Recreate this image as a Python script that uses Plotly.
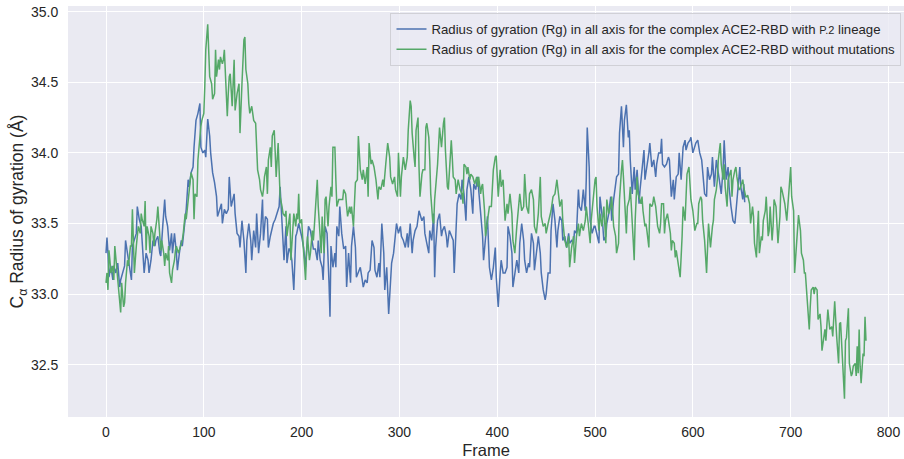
import plotly.graph_objects as go

# ---- data (frame, Rg in Å) ----
p2_frames = [0,1,2,3,5,7,8,10,12,14,15,17,19,20,22,24,26,27,29,31,32,34,36,38,39,41,43,44,46,48,50,51,53,55,56,58,60,61,63,65,67,68,70,72,73,75,77,78,80,82,84,85,87,89,90,92,94,96,97,99,101,102,104,106,107,109,111,113,114,116,118,119,121,123,125,
 126,128,131,132,134,136,137,139,141,143,144,146,148,149,151,153,154,156,158,160,161,163,165,166,168,170,171,173,175,177,178,179,181,182,184,185,187,188,190,192,194,195,197,199,200,202,204,205,207,209,211,212,214,216,217,219,221,222,224,226,228,229,230,232,234,235,236,238,239,241,243,245,246,248,250,251,253,255,256,258,
 260,262,263,265,267,268,270,272,274,275,277,279,280,282,284,285,287,289,291,292,294,296,297,299,301,302,304,306,308,309,311,313,314,316,318,320,321,323,325,326,328,330,331,333,335,336,337,339,341,343,344,346,348,349,351,353,355,356,358,359,361,363,364,366,368,369,371,373,375,376,378,380,381,383,385,386,388,390,
 392,394,396,398,399,401,403,404,406,408,410,411,413,415,416,418,420,422,423,425,427,428,430,432,433,435,437,438,440,442,444,445,447,449,450,452,454,455,457,459,461,462,464,466,467,469,471,473,474,476,478,479,481,483,484,486,488,490,491,492,494,495,497,499,500,502,504,505,507,509,511,512,514,516,517,519,521,522,
 524,525,527,529,530,532,534,535,536,538,540,541,543,545,546,548,550,551,553,555,556,558,560,562,563,565,567,568,569,571,573,575,576,578,580,581,583,585,586,588,590,592,593,595,597,598,600,602,603,605,607,609,610,612,614,615,617,619,620,622,624,626,627,629,631,632,634,636,637,639,641,643,644,646,648,649,651,652,653]
p2_rg = [33.29,33.40,33.29,33.12,33.20,33.10,33.20,33.15,33.22,33.05,33.10,33.15,33.20,33.38,33.29,33.17,33.10,33.34,33.38,33.43,33.62,33.53,33.48,33.29,33.15,33.29,33.24,33.15,33.24,33.38,33.34,33.38,33.41,33.29,33.27,33.48,33.67,33.55,33.48,33.31,33.43,33.29,33.43,33.29,33.17,33.29,33.38,33.34,33.48,33.60,33.81,33.76,33.86,33.90,34.04,34.23,34.28,34.35,34.04,34.00,34.02,33.97,34.24,34.12,34.00,33.86,33.79,33.69,33.55,33.60,33.64,33.50,33.60,33.57,33.60,
 33.83,33.62,33.71,33.57,33.43,33.41,33.33,33.52,33.38,33.15,33.38,33.50,33.38,33.24,33.45,33.33,33.57,33.29,33.43,33.67,33.38,33.55,33.53,33.33,33.41,33.48,33.50,33.53,33.57,33.62,33.76,33.62,33.41,33.24,33.48,33.22,33.32,33.32,33.24,33.03,33.41,33.43,33.50,33.45,33.41,33.33,33.19,33.29,33.48,33.45,33.38,33.32,33.32,33.24,33.38,33.24,33.19,33.10,33.48,33.43,33.08,32.84,33.34,33.19,33.29,33.19,33.48,33.41,33.62,33.43,33.32,33.34,33.05,33.29,33.08,33.34,33.48,33.33,33.12,33.15,
 33.19,33.10,33.05,33.10,33.08,33.15,33.17,33.38,33.33,33.17,33.12,33.22,33.12,33.50,33.29,33.03,33.19,32.86,33.10,33.22,33.29,33.41,33.50,33.43,33.48,33.41,33.38,33.33,33.43,33.33,33.50,33.29,33.38,33.45,33.48,33.59,33.57,33.52,33.55,33.43,33.36,33.29,33.45,33.38,33.57,33.12,33.33,33.52,33.57,33.41,33.45,33.48,33.41,33.33,33.45,33.41,33.38,33.15,33.45,33.64,33.71,33.67,33.81,33.71,33.52,33.74,33.83,33.74,33.57,33.78,33.74,33.83,33.74,33.59,33.41,33.24,33.38,33.55,
 33.19,33.10,33.19,33.33,33.12,32.91,33.15,33.24,33.15,33.15,33.19,33.48,33.41,33.29,33.05,33.15,33.24,33.15,33.36,33.50,33.38,33.24,33.15,33.22,33.19,33.43,33.36,33.17,33.29,33.41,33.29,33.15,33.03,32.96,33.00,33.15,33.15,33.45,33.64,33.52,33.33,33.45,33.55,33.52,33.38,33.41,33.33,33.43,33.36,33.38,33.36,33.45,33.43,33.74,33.62,33.59,33.74,33.59,33.81,34.18,33.90,33.52,33.43,33.48,33.48,33.41,33.36,33.69,33.57,33.38,33.41,33.50,33.57,33.69,33.52,33.67,33.81,33.83,
 33.85,34.14,34.33,34.04,34.23,34.34,34.11,34.16,33.95,33.71,33.90,33.74,33.88,33.64,33.74,33.90,34.02,33.81,33.90,34.00,34.07,33.90,33.95,33.83,33.92,34.00,34.00,34.10,33.92,33.90,33.92,33.97,33.95,33.69,33.81,33.67,33.83,33.85,34.00,33.81,34.04,34.09,34.02,34.07,34.09,34.11,34.00,34.04,34.07,34.09,34.00,33.95,33.88,33.71,33.69,33.90,33.81,33.85,33.97,33.76,33.95,33.83,33.81,33.71,33.90,34.09,33.81,33.90,33.76,33.62,33.52,33.50,33.57,33.71,33.90,33.76,33.67,33.78,33.65]

wt_frames = [0,1,2,3,4,5,7,8,9,11,12,14,15,16,18,19,20,22,23,25,26,27,28,29,31,32,33,35,36,37,39,40,41,42,44,45,46,48,49,50,52,53,55,56,57,59,60,61,63,64,65,67,68,70,71,72,74,75,76,78,79,81,82,83,85,86,87,89,90,91,93,94,96,97,98,100,101,102,104,105,106,108,109,111,112,113,115,116,117,119,120,121,123,124,125,
 126,127,129,131,132,134,136,137,138,139,141,142,143,145,146,147,149,150,151,153,154,155,157,158,160,161,162,164,165,166,168,169,170,172,173,174,176,177,178,180,181,183,184,185,187,188,189,191,192,194,195,196,197,198,200,201,202,204,205,206,208,209,211,212,213,215,216,217,219,220,221,223,224,225,227,228,230,231,232,234,235,236,238,239,240,242,243,245,246,247,249,250,251,253,254,255,257,258,
 260,262,263,265,267,268,269,271,272,274,276,278,279,281,283,284,286,288,290,291,293,295,296,298,299,301,302,304,306,308,309,311,312,313,315,316,317,319,320,321,323,324,326,327,328,330,331,332,334,335,336,338,339,341,342,343,345,346,347,349,350,351,353,354,355,357,358,360,361,362,364,365,366,368,369,370,372,373,375,376,377,379,380,381,383,384,385,387,388,390,391,
 392,394,396,398,399,400,401,403,404,406,408,410,411,413,415,416,418,420,422,423,425,427,428,430,432,433,435,437,438,440,442,444,445,447,449,450,452,454,455,457,459,461,462,464,466,467,469,471,473,474,476,478,479,481,483,484,486,488,490,491,493,495,496,498,500,501,502,504,505,507,509,511,512,514,516,517,519,521,522,
 524,525,527,528,529,531,532,533,535,536,537,539,540,541,543,544,545,547,548,549,551,552,553,555,556,558,559,560,562,563,564,566,567,568,570,571,572,574,575,577,578,579,581,582,583,585,586,587,589,590,592,593,594,596,597,598,600,601,602,604,605,606,608,609,610,612,613,614,616,617,618,620,621,622,624,625,626,628,629,631,632,633,635,636,637,639,640,641,643,644,645,647,648,650,651,652,654,655,
 656,658,659,661,662,663,665,666,667,668,670,671,672,674,675,677,678,679,681,682,683,685,686,687,689,690,691,693,694,696,697,698,700,701,702,703,704,706,707,708,710,711,713,714,715,716,718,719,720,721,723,724,725,727,728,730,731,732,734,735,736,738,739,740,742,743,745,746,747,749,750,751,753,754,755,756,757,759,760,762,763,764,766,767,768,769,770,771,772,774,775,776,777]
wt_rg = [33.08,33.15,33.03,33.31,33.24,33.15,33.20,33.10,33.34,33.20,33.12,32.96,32.87,33.08,32.91,32.94,33.08,33.24,33.20,33.34,33.34,33.60,33.34,33.15,33.34,33.43,33.48,33.43,33.57,33.53,33.48,33.66,33.31,33.48,33.41,33.29,33.48,33.43,33.34,33.43,33.53,33.62,33.43,33.31,33.38,33.29,33.20,33.29,33.24,33.34,33.15,33.08,33.17,33.24,33.31,33.34,33.29,33.31,33.34,33.38,33.43,33.57,33.53,33.60,33.76,33.83,33.86,33.81,33.53,33.71,33.69,33.95,34.16,34.19,34.23,34.28,34.47,34.73,34.91,34.75,34.54,34.49,34.38,34.42,34.73,34.54,34.66,34.59,34.68,34.63,34.66,34.73,34.45,34.26,34.42,
 34.54,34.56,34.33,34.66,34.30,34.42,34.49,34.14,34.35,34.49,34.80,34.82,34.59,34.49,34.35,34.28,34.33,34.26,34.23,34.21,34.02,33.88,33.81,33.74,33.69,33.74,33.83,33.90,33.71,33.95,34.04,33.90,34.12,34.16,34.00,33.83,34.07,33.86,33.69,33.62,33.57,33.55,33.59,33.41,33.53,33.57,33.24,33.53,33.57,33.48,33.57,33.53,33.71,33.50,33.53,33.41,33.29,33.10,33.29,33.41,33.24,33.29,33.45,33.38,33.48,33.69,33.81,33.62,33.34,33.29,33.55,33.29,33.67,33.69,33.48,33.62,33.76,33.69,34.04,34.04,33.81,33.62,33.67,33.67,33.67,33.67,33.74,33.71,33.62,33.55,33.62,33.57,33.62,33.48,33.64,33.79,33.81,34.12,
 33.88,33.81,33.88,33.78,33.90,33.69,34.07,33.92,33.95,33.90,33.81,33.67,33.76,33.74,33.81,33.76,33.92,34.07,33.97,33.83,33.78,33.83,33.74,33.69,34.00,33.69,33.83,33.97,33.88,33.97,34.16,34.37,34.33,34.14,33.97,33.90,34.16,34.25,33.90,33.69,33.85,33.88,33.88,34.18,34.21,34.11,33.95,33.71,33.52,33.50,33.67,33.83,33.92,34.18,34.09,34.04,34.21,34.25,34.02,33.76,33.74,33.88,34.09,33.97,33.83,33.81,33.71,33.81,33.78,33.74,33.71,33.64,33.92,33.90,33.85,33.90,33.81,33.85,33.83,33.81,33.78,33.83,33.76,33.83,33.71,33.76,33.78,33.59,33.41,33.52,33.57,
 33.62,33.62,33.88,33.97,33.98,33.83,33.69,33.88,33.76,33.81,33.52,33.64,33.57,33.71,33.57,33.38,33.29,33.48,33.62,33.71,33.59,33.62,33.85,33.62,33.57,33.71,33.74,33.67,33.48,33.43,33.57,33.83,33.55,33.48,33.50,33.43,33.50,33.57,33.59,33.69,33.71,33.81,33.74,33.62,33.67,33.52,33.38,33.33,33.41,33.19,33.33,33.41,33.22,33.41,33.50,33.41,33.50,33.45,33.52,33.62,33.50,33.36,33.52,33.67,33.81,33.83,33.62,33.45,33.57,33.48,33.62,33.36,33.67,33.57,33.62,33.69,33.48,33.41,33.29,
 33.36,33.67,33.88,33.95,33.83,33.59,33.43,33.62,33.67,33.76,33.59,33.38,33.24,33.52,33.83,33.71,33.69,33.64,33.69,33.59,33.48,33.50,33.45,33.33,33.64,33.62,33.64,33.69,33.62,33.52,33.48,33.43,33.50,33.64,33.64,33.43,33.52,33.57,33.52,33.43,33.31,33.38,33.36,33.26,33.31,33.22,33.17,33.12,33.41,33.62,33.52,33.71,33.85,33.90,33.81,33.67,33.59,33.52,33.45,33.50,33.50,33.64,33.69,33.67,33.52,33.38,33.26,33.15,33.50,33.41,33.33,33.48,33.52,33.67,33.74,33.81,33.95,34.07,33.92,33.81,33.92,33.76,33.62,33.81,33.83,33.88,33.69,33.81,33.88,33.90,33.83,33.74,33.74,33.78,33.81,33.76,33.69,33.69,
 33.70,33.64,33.50,33.62,33.55,33.36,33.26,33.45,33.59,33.29,33.41,33.38,33.52,33.59,33.69,33.41,33.45,33.62,33.38,33.48,33.67,33.62,33.50,33.36,33.55,33.76,33.74,33.67,33.64,33.52,33.62,33.67,33.90,33.69,33.63,33.59,33.15,33.33,33.45,33.56,33.45,33.29,33.24,33.15,33.15,33.05,32.89,32.75,32.91,33.03,33.05,33.00,33.05,33.03,32.82,32.86,32.77,32.60,32.70,32.75,32.67,32.89,32.82,32.75,32.77,32.70,32.95,32.77,32.70,32.51,32.79,32.80,32.53,32.44,32.26,32.67,32.69,32.90,32.51,32.42,32.44,32.49,32.51,32.42,32.63,32.44,32.75,32.49,32.37,32.58,32.56,32.84,32.67]

y_ticks = [32.5, 33.0, 33.5, 34.0, 34.5, 35.0]
x_ticks = [0, 100, 200, 300, 400, 500, 600, 700, 800]

name_p2 = ("Radius of gyration (Rg) in all axis for the complex ACE2-RBD with "
           "<span style='font-size:11px'>P.2</span> lineage")
name_wt = "Radius of gyration (Rg) in all axis for the complex ACE2-RBD without mutations"

FONT = "Liberation Sans, Arial, sans-serif"
TXT = "#262626"

fig = go.Figure()
fig.add_trace(go.Scatter(x=p2_frames, y=p2_rg, mode="lines", name=name_p2,
                         line=dict(color="#4C72B0", width=1.5)))
fig.add_trace(go.Scatter(x=wt_frames, y=wt_rg, mode="lines", name=name_wt,
                         line=dict(color="#55A868", width=1.5)))

fig.update_layout(
    width=904, height=459,
    margin=dict(l=68, r=0, t=6, b=42),
    paper_bgcolor="white", plot_bgcolor="#EAEAF2",
    font=dict(family=FONT, size=14, color=TXT),
    legend=dict(x=0.997, y=0.983, xanchor="right", yanchor="top",
                bgcolor="rgba(234,234,242,0.8)", bordercolor="#d0d0d6", borderwidth=1,
                font=dict(size=13.2, color=TXT), tracegroupgap=0, itemwidth=30),
    showlegend=True,
)
fig.update_xaxes(range=[-38.85, 815.85], tickvals=x_ticks, showgrid=True, gridcolor="white",
                 gridwidth=1.3, zeroline=False, showline=False, ticks="outside", ticklen=2,
                 tickcolor="rgba(0,0,0,0)", tickfont=dict(size=14, color=TXT),
                 title=dict(text="Frame", font=dict(size=16.5, color=TXT), standoff=5))
fig.update_yaxes(range=[32.13, 35.04], tickvals=y_ticks, tickformat=".1f", showgrid=True,
                 gridcolor="white", gridwidth=1.3, zeroline=False, showline=False,
                 ticks="outside", ticklen=6, tickcolor="rgba(0,0,0,0)",
                 tickfont=dict(size=14, color=TXT),
                 title=dict(text="C<sub>α</sub> Radius of gyration (Å)",
                            font=dict(size=17.5, color=TXT), standoff=2))

fig.write_html("out.html")
